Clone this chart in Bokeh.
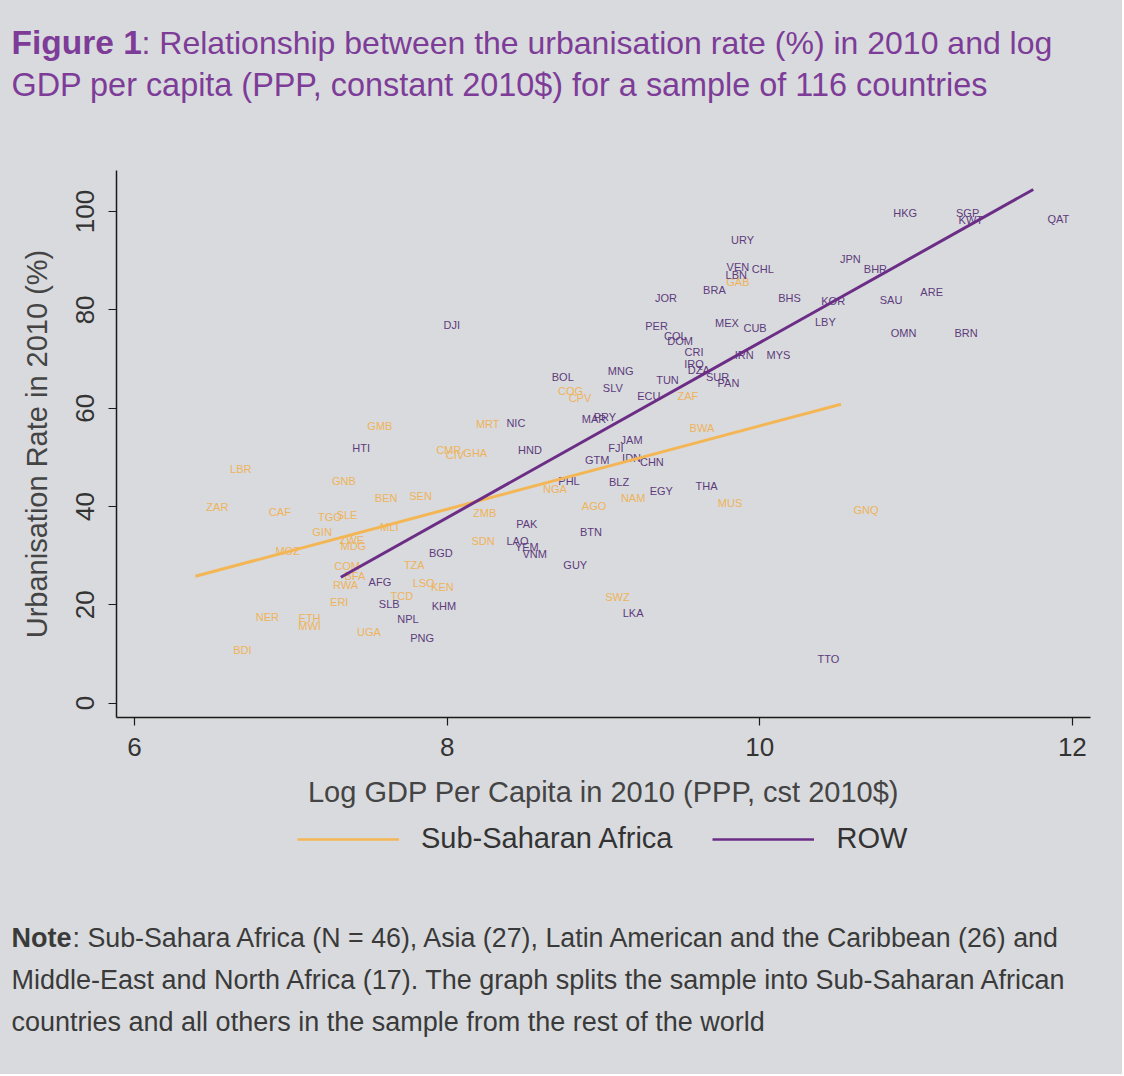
from bokeh.plotting import figure
from bokeh.layouts import column
from bokeh.models import Range1d, Label, Legend, LegendItem, ColumnDataSource, FixedTicker
from bokeh.core.properties import value
from bokeh.embed import file_html
from bokeh.resources import INLINE

# ---------------- data ----------------
ssa_codes = ["ZAR", "LBR", "BDI", "CAF", "MOZ", "NER", "ETH", "MWI", "GMB", "GNB",
             "TGO", "SLE", "GIN", "ZWE", "MDG", "MLI", "BEN", "SEN", "COM", "BFA",
             "RWA", "ERI", "TCD", "TZA", "LSO", "KEN", "UGA", "CMR", "CIV", "GHA",
             "MRT", "ZMB", "SDN", "NGA", "AGO", "COG", "CPV", "ZAF", "NAM", "BWA",
             "MUS", "SWZ", "GAB", "GNQ"]
ssa_gdp = [6.53, 6.68, 6.69, 6.93, 6.98, 6.85, 7.12, 7.12, 7.57, 7.34,
           7.25, 7.36, 7.20, 7.39, 7.40, 7.63, 7.61, 7.83, 7.36, 7.41,
           7.35, 7.31, 7.71, 7.79, 7.85, 7.97, 7.50, 8.01, 8.05, 8.18,
           8.26, 8.24, 8.23, 8.69, 8.94, 8.79, 8.85, 9.54, 9.19, 9.63,
           9.81, 9.09, 9.86, 10.68]
ssa_urb = [39.8, 47.6, 10.8, 38.8, 30.9, 17.5, 17.3, 15.7, 56.3, 45.1,
           37.8, 38.2, 34.8, 33.1, 31.9, 35.8, 41.7, 42.1, 27.8, 25.8,
           24.0, 20.5, 21.7, 28.0, 24.4, 23.6, 14.4, 51.4, 50.4, 50.8,
           56.7, 38.6, 32.9, 43.5, 40.0, 63.4, 62.0, 62.4, 41.7, 55.9,
           40.7, 21.5, 85.6, 39.2]

row_codes = ["HTI", "DJI", "NIC", "HND", "BGD", "AFG", "SLB", "NPL", "KHM", "PNG",
             "PAK", "LAO", "YEM", "VNM", "GUY", "BTN", "PHL", "BOL", "MNG", "SLV",
             "MAR", "PRY", "ECU", "TUN", "JAM", "FJI", "GTM", "IDN", "CHN", "BLZ",
             "EGY", "THA", "PER", "COL", "DOM", "CRI", "IRQ", "DZA", "SUR", "PAN",
             "IRN", "MYS", "MEX", "CUB", "JOR", "BRA", "LBN", "VEN", "CHL", "URY",
             "BHS", "KOR", "LBY", "JPN", "BHR", "SAU", "ARE", "OMN", "BRN", "HKG",
             "SGP", "KWT", "QAT", "LKA", "TTO"]
row_gdp = [7.45, 8.03, 8.44, 8.53, 7.96, 7.57, 7.63, 7.75, 7.98, 7.84,
           8.51, 8.45, 8.51, 8.56, 8.82, 8.92, 8.78, 8.74, 9.11, 9.06,
           8.94, 9.01, 9.29, 9.41, 9.18, 9.08, 8.96, 9.18, 9.31, 9.10,
           9.37, 9.66, 9.34, 9.46, 9.49, 9.58, 9.58, 9.61, 9.73, 9.80,
           9.90, 10.12, 9.79, 9.97, 9.40, 9.71, 9.85, 9.86, 10.02, 9.89,
           10.19, 10.47, 10.42, 10.58, 10.74, 10.84, 11.10, 10.92, 11.32, 10.93,
           11.33, 11.35, 11.91, 9.19, 10.44]
row_urb = [51.8, 77.0, 56.9, 51.4, 30.5, 24.6, 20.1, 17.1, 19.7, 13.2,
           36.4, 32.9, 31.7, 30.3, 28.0, 34.8, 45.1, 66.3, 67.5, 64.2,
           57.9, 58.3, 62.4, 65.7, 53.5, 51.8, 49.4, 49.8, 49.0, 44.9,
           43.1, 44.1, 76.8, 74.6, 73.6, 71.5, 68.9, 67.7, 66.3, 65.2,
           70.9, 70.9, 77.4, 76.4, 82.5, 84.1, 87.0, 88.8, 88.4, 94.3,
           82.5, 81.9, 77.6, 90.4, 88.4, 82.1, 83.7, 75.2, 75.4, 99.8,
           99.8, 98.2, 98.4, 18.3, 8.9]

ssa_fit_x = [6.39, 10.52]
ssa_fit_y = [25.8, 60.8]
row_fit_x = [7.32, 11.75]
row_fit_y = [25.6, 104.5]

x_ticks = [6, 8, 10, 12]
y_ticks = [0, 20, 40, 60, 80, 100]

# ---------------- styling ----------------
BG = "#d9dadd"
ORANGE_LINE = "#f4b654"
PURPLE_LINE = "#6b2d86"
ORANGE_TXT = "#eeb35a"
PURPLE_TXT = "#5d3b7c"
TITLE_COL = "#7d3c98"
NOTE_COL = "#3a3a3a"
FONT = "Liberation Sans"
NAN = float("nan")

W = 1122
HA = 110            # title strip: canvas 0..110
HB_END = 822        # main plot strip: canvas 110..822
H_END = 1074        # note strip: canvas 822..1074
FL, FR, FT, FB = 116, 1090, 170, 717   # frame edges in canvas px
BGSTYLE = {"background-color": BG}


def strip(h):
    f = figure(width=W, height=h, output_backend="svg", toolbar_location=None,
               x_range=Range1d(0, W), y_range=Range1d(h, 0),
               x_axis_type=None, y_axis_type=None, min_border=0,
               frame_align=False, styles=BGSTYLE)
    f.background_fill_color = BG
    f.border_fill_color = BG
    f.outline_line_color = None
    f.grid.visible = False
    return f


def put(f, y0, text, cx, cy, size, color, bold=False):
    f.add_layout(Label(x=cx, y=cy - y0, text=text, text_font=FONT,
                       text_font_size=size, text_color=color,
                       text_baseline="middle", text_align="left",
                       text_font_style="bold" if bold else "normal"))


# ---------- title strip ----------
pa = strip(HA)
put(pa, 0, "Figure 1", 11, 42, "33.5px", TITLE_COL, bold=True)
put(pa, 0, ": Relationship between the urbanisation rate (%) in 2010 and log", 11 + 130, 42, "32px", TITLE_COL)
put(pa, 0, "GDP per capita (PPP, constant 2010$) for a sample of 116 countries", 11, 84, "32.4px", TITLE_COL)

# ---------- main plot ----------
HB = HB_END - HA
p = figure(width=W, height=HB, output_backend="svg", toolbar_location=None,
           x_range=Range1d(5.885, 12.116), y_range=Range1d(-2.93, 108.36),
           min_border_left=FL, min_border_right=W - FR,
           min_border_top=FT - HA, min_border_bottom=HB_END - FB,
           frame_align=False, styles=BGSTYLE)
p.background_fill_color = BG
p.border_fill_color = BG
p.outline_line_color = None
p.grid.visible = False

for ax in (p.xaxis[0], p.yaxis[0]):
    ax.axis_line_color = "#1a1a1a"
    ax.axis_line_width = 1.5
    ax.major_tick_line_color = "#1a1a1a"
    ax.major_tick_line_width = 1.2
    ax.major_tick_out = 8
    ax.major_tick_in = 0
    ax.minor_tick_line_color = None
    ax.major_label_text_font = FONT
    ax.major_label_text_font_size = "26px"
    ax.major_label_text_color = "#333333"
    ax.axis_label_text_font = FONT
    ax.axis_label_text_font_size = "29px"
    ax.axis_label_text_font_style = "normal"
    ax.axis_label_text_color = "#444444"

p.xaxis.ticker = FixedTicker(ticks=x_ticks)
p.yaxis.ticker = FixedTicker(ticks=y_ticks)
p.xaxis.axis_label = "Log GDP Per Capita in 2010 (PPP, cst 2010$)"
p.yaxis.axis_label = "Urbanisation Rate in 2010 (%)"
p.yaxis.major_label_orientation = "vertical"
p.xaxis.major_label_standoff = 12
p.yaxis.major_label_standoff = 14
p.xaxis.axis_label_standoff = 17
p.yaxis.axis_label_standoff = 21

ssa_src = ColumnDataSource(dict(x=ssa_gdp, y=ssa_urb, t=ssa_codes))
row_src = ColumnDataSource(dict(x=row_gdp, y=row_urb, t=row_codes))
p.text("x", "y", text="t", source=ssa_src, text_font=value(FONT),
       text_font_size="11px", text_color=ORANGE_TXT, text_align="center",
       text_baseline="middle")
p.text("x", "y", text="t", source=row_src, text_font=value(FONT),
       text_font_size="11px", text_color=PURPLE_TXT, text_align="center",
       text_baseline="middle")

p.line(ssa_fit_x, ssa_fit_y, line_color=ORANGE_LINE, line_width=3)
p.line(row_fit_x, row_fit_y, line_color=PURPLE_LINE, line_width=3)

# ---------- legend + note strip ----------
HC = H_END - HB_END
pc = strip(HC)
# legend-only proxies (nothing drawn in the strip itself)
k1 = pc.line([NAN, NAN], [NAN, NAN], line_color=ORANGE_LINE, line_width=2.5)
k2 = pc.line([NAN, NAN], [NAN, NAN], line_color=PURPLE_LINE, line_width=2.5)
legend = Legend(items=[LegendItem(label="Sub-Saharan Africa", renderers=[k1]),
                       LegendItem(label="ROW", renderers=[k2])],
                orientation="horizontal", location=(297, HC - 33),
                background_fill_alpha=0, border_line_color=None,
                label_text_font=FONT, label_text_font_size="29px",
                label_text_color="#333333", glyph_width=102, glyph_height=20,
                label_standoff=22, spacing=40, padding=0, margin=0)
pc.add_layout(legend, "center")

put(pc, HB_END, "Note", 11, 937, "27px", NOTE_COL, bold=True)
put(pc, HB_END, ": Sub-Sahara Africa (N = 46), Asia (27), Latin American and the Caribbean (26) and", 11 + 61, 937, "26.8px", NOTE_COL)
put(pc, HB_END, "Middle-East and North Africa (17). The graph splits the sample into Sub-Saharan African", 11, 979, "27px", NOTE_COL)
put(pc, HB_END, "countries and all others in the sample from the rest of the world", 11, 1021, "27px", NOTE_COL)

layout = column(pa, p, pc, spacing=0, styles=BGSTYLE)
open("out.html", "w").write(file_html(layout, INLINE))
